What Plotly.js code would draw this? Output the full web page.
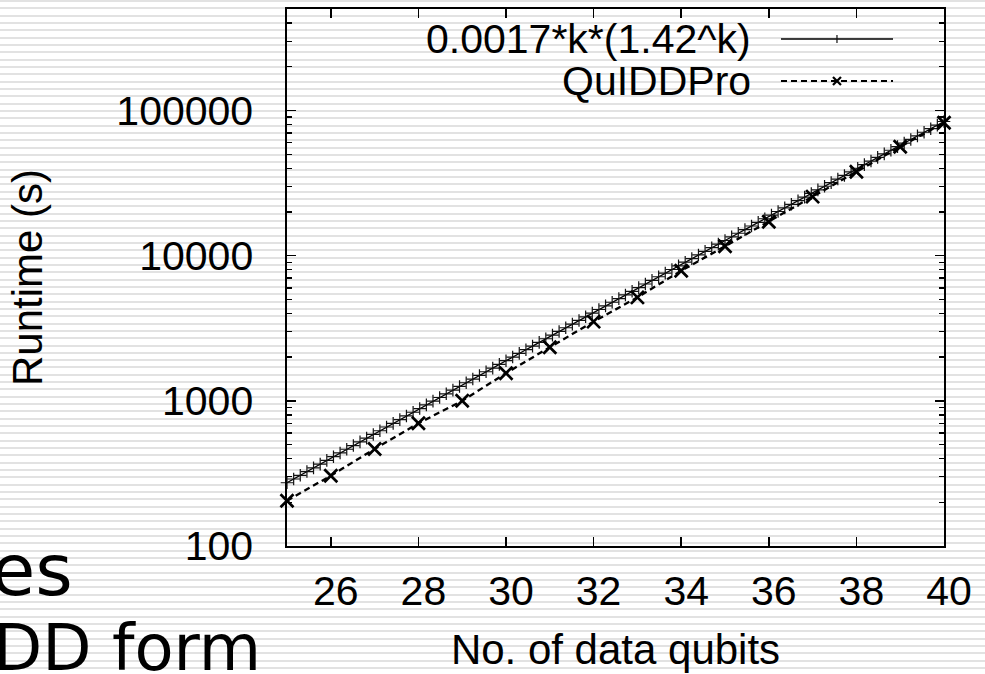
<!DOCTYPE html>
<html>
<head>
<meta charset="utf-8">
<script src="https://cdn.plot.ly/plotly-3.0.1.min.js"></script>
<style>
  html, body { margin: 0; padding: 0; }
  body {
    width: 985px; height: 674px; overflow: hidden;
    background: repeating-linear-gradient(to bottom, #e2e2e2 0px, #e2e2e2 2px, #ffffff 2px, #ffffff 7.33px);
  }
  #chart { width: 985px; height: 674px; }
</style>
</head>
<body>
<div id="chart"></div>
<script>
// ---- data ----
const fitName = "0.0017*k*(1.42^k)";
const quiddName = "QuIDDPro";

const fitX = [25.000, 25.152, 25.303, 25.455, 25.606, 25.758, 25.909, 26.061, 26.212, 26.364,
  26.515, 26.667, 26.818, 26.970, 27.121, 27.273, 27.424, 27.576, 27.727, 27.879,
  28.030, 28.182, 28.333, 28.485, 28.636, 28.788, 28.939, 29.091, 29.242, 29.394,
  29.545, 29.697, 29.848, 30.000, 30.152, 30.303, 30.455, 30.606, 30.758, 30.909,
  31.061, 31.212, 31.364, 31.515, 31.667, 31.818, 31.970, 32.121, 32.273, 32.424,
  32.576, 32.727, 32.879, 33.030, 33.182, 33.333, 33.485, 33.636, 33.788, 33.939,
  34.091, 34.242, 34.394, 34.545, 34.697, 34.848, 35.000, 35.152, 35.303, 35.455,
  35.606, 35.758, 35.909, 36.061, 36.212, 36.364, 36.515, 36.667, 36.818, 36.970,
  37.121, 37.273, 37.424, 37.576, 37.727, 37.879, 38.030, 38.182, 38.333, 38.485,
  38.636, 38.788, 38.939, 39.091, 39.242, 39.394, 39.545, 39.697, 39.848, 40.000];

const fitY = [272.7, 289.3, 306.9, 325.6, 345.4, 366.4, 388.7, 412.3, 437.3, 463.8,
  491.9, 521.7, 553.3, 586.8, 622.3, 660.0, 699.8, 742.1, 786.9, 834.3,
  884.7, 938.0, 994.5, 1054, 1118, 1185, 1256, 1332, 1412, 1496,
  1586, 1681, 1782, 1889, 2002, 2122, 2249, 2383, 2526, 2677,
  2837, 3006, 3186, 3376, 3577, 3790, 4016, 4255, 4509, 4777,
  5061, 5362, 5681, 6019, 6376, 6755, 7156, 7580, 8030, 8506,
  9010, 9544, 10110, 10710, 11340, 12010, 12720, 13480, 14270, 15120,
  16010, 16950, 17960, 19020, 20140, 21320, 22580, 23910, 25320, 26810,
  28390, 30060, 31830, 33710, 35690, 37790, 40010, 42360, 44850, 47490,
  50270, 53230, 56350, 59650, 63150, 66850, 70770, 74920, 79310, 83950];

const qubits = [25, 26, 27, 28, 29, 30, 31, 32, 33, 34, 35, 36, 37, 38, 39, 40];
const quiddRuntime = [205, 305, 466, 700, 1000, 1550, 2340, 3510, 5160, 7870, 11600, 17100, 25500, 37800, 56200, 82300];

const xTickVals = [26, 28, 30, 32, 34, 36, 38, 40];
const xTickText = ["26", "28", "30", "32", "34", "36", "38", "40"];
const yTickVals = [100, 1000, 10000, 100000];
const yTickText = ["100", "1000", "10000", "100000"];
const yMinorVals = [200,300,400,500,600,700,800,900,
  2000,3000,4000,5000,6000,7000,8000,9000,
  20000,30000,40000,50000,60000,70000,80000,90000,
  200000,300000,400000];

const xTitle = "No. of data qubits";
const yTitle = "Runtime (s)";
const bgText1 = "es";
const bgText2 = "DD form";

// ---- chart ----
const FONT = "Liberation Sans, Arial, sans-serif";

const traces = [
  {
    x: fitX, y: fitY, name: fitName, type: "scatter", mode: "lines+markers",
    line: { color: "#000", width: 1.3 },
    marker: { symbol: "cross-thin", size: 9, line: { color: "#111", width: 1.2 } },
    cliponaxis: false
  },
  {
    x: qubits, y: quiddRuntime, name: quiddName, type: "scatter", mode: "lines+markers",
    line: { color: "#000", width: 2.3, dash: "6px,4px" },
    marker: { symbol: "x-thin", size: 13, line: { color: "#000", width: 2.7 } },
    cliponaxis: false
  }
];

// legend geometry (paper coords)
const legTextX = 0.7093;
const legRowY = [0.9441, 0.8659];
const legX0 = 0.7519, legX1 = 0.9224, legMid = 0.8371;

const shapes = [
  { type: "line", xref: "paper", yref: "paper", x0: legX0, x1: legX1, y0: legRowY[0], y1: legRowY[0],
    line: { color: "#000", width: 1.3 } },
  { type: "line", xref: "paper", yref: "paper", xsizemode: "pixel", ysizemode: "pixel",
    xanchor: legMid, yanchor: legRowY[0], x0: 0, x1: 0, y0: -4, y1: 4, line: { color: "#111", width: 1.2 } },
  { type: "line", xref: "paper", yref: "paper", x0: legX0, x1: legX1, y0: legRowY[1], y1: legRowY[1],
    line: { color: "#000", width: 2.0, dash: "6px,4px" } },
  { type: "line", xref: "paper", yref: "paper", xsizemode: "pixel", ysizemode: "pixel",
    xanchor: legMid, yanchor: legRowY[1], x0: -4, x1: 4, y0: -4, y1: 4, line: { color: "#000", width: 2.2 } },
  { type: "line", xref: "paper", yref: "paper", xsizemode: "pixel", ysizemode: "pixel",
    xanchor: legMid, yanchor: legRowY[1], x0: -4, x1: 4, y0: 4, y1: -4, line: { color: "#000", width: 2.2 } }
];

const annotations = [
  { text: fitName, xref: "paper", yref: "paper", x: legTextX, y: legRowY[0], xanchor: "right", yanchor: "middle",
    showarrow: false, font: { family: FONT, size: 41, color: "#000" } },
  { text: quiddName, xref: "paper", yref: "paper", x: legTextX, y: legRowY[1], xanchor: "right", yanchor: "middle",
    showarrow: false, font: { family: FONT, size: 41, color: "#000" } },
  { text: bgText1, xref: "paper", yref: "paper", x: -0.323, y: -0.045, xanchor: "right", yanchor: "middle",
    showarrow: false, font: { family: "DejaVu Sans, sans-serif", size: 72, color: "#000" } },
  { text: bgText2, xref: "paper", yref: "paper", x: -0.036, y: -0.19, xanchor: "right", yanchor: "middle",
    showarrow: false, font: { family: "DejaVu Sans, sans-serif", size: 64, color: "#000" } }
];

const layout = {
  width: 985, height: 674,
  margin: { l: 287, r: 41, t: 9, b: 128, pad: 0 },
  paper_bgcolor: "rgba(0,0,0,0)",
  plot_bgcolor: "rgba(0,0,0,0)",
  showlegend: false,
  font: { family: FONT, size: 41, color: "#000" },
  xaxis: {
    range: [25, 40], tickmode: "array", tickvals: xTickVals, ticktext: xTickText,
    ticks: "inside", ticklen: 9, tickwidth: 1.5, tickcolor: "#000",
    showline: true, linecolor: "#000", linewidth: 1.6, mirror: "allticks",
    showgrid: false, zeroline: false,
    tickfont: { family: FONT, size: 41, color: "#000" },
    ticklabelstandoff: 8, ticklabelshift: 5,
    title: { text: xTitle, font: { family: FONT, size: 42, color: "#000" }, standoff: 22 },
    automargin: false
  },
  yaxis: {
    type: "log", range: [2, Math.log10(500000)],
    tickmode: "array", tickvals: yTickVals, ticktext: yTickText,
    ticks: "inside", ticklen: 9, tickwidth: 1.5, tickcolor: "#000",
    minor: { tickmode: "array", tickvals: yMinorVals, ticks: "inside", ticklen: 5, tickwidth: 1.3, tickcolor: "#000", showgrid: false },
    showline: true, linecolor: "#000", linewidth: 1.6, mirror: "allticks",
    showgrid: false, zeroline: false,
    tickfont: { family: FONT, size: 41, color: "#000" },
    ticklabelstandoff: 24,
    title: { text: yTitle, font: { family: FONT, size: 42, color: "#000" }, standoff: 60 },
    automargin: false
  },
  shapes: shapes,
  annotations: annotations
};

Plotly.newPlot("chart", traces, layout, { staticPlot: true, displayModeBar: false });
</script>
</body>
</html>
